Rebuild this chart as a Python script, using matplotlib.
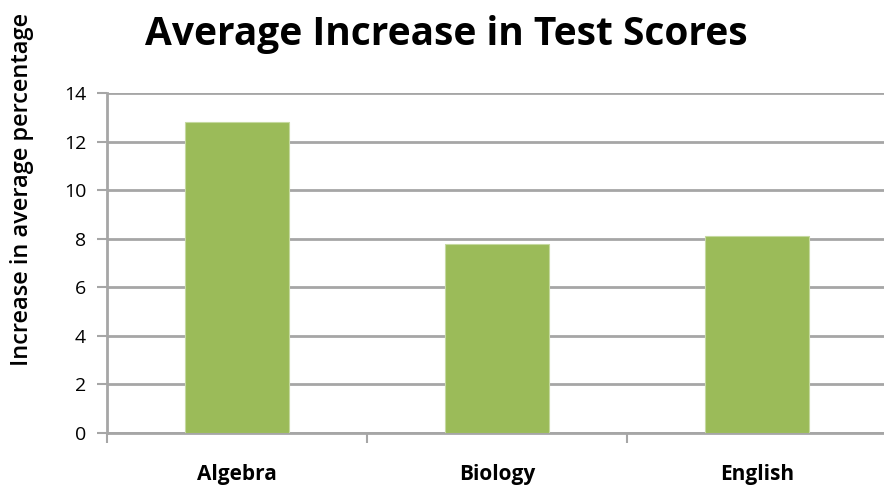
import matplotlib.pyplot as plt

plt.rcParams['font.family'] = ['Open Sans', 'DejaVu Sans']

subjects = ["Algebra", "Biology", "English"]
increase = [12.8, 7.8, 8.1]
yticks = [0, 2, 4, 6, 8, 10, 12, 14]

fig = plt.figure(figsize=(8.84, 4.9), dpi=100)
ax = fig.add_axes([107 / 884, 57 / 490, 780 / 884, 340 / 490])

grid_col = "#a6a6a6"
ax.bar(range(len(subjects)), increase, width=0.4, color="#9bbb59",
       edgecolor="#c5d9a0", linewidth=0.8, zorder=3)

ax.set_xlim(-0.5, 2.5)
ax.set_ylim(0, 14)
ax.set_yticks(yticks)
ax.set_yticklabels([str(t) for t in yticks], fontsize=14)
ax.yaxis.grid(True, color=grid_col, linewidth=2, zorder=0)

# category labels in the middle, tick marks on the boundaries
ax.set_xticks(range(len(subjects)))
ax.set_xticklabels(subjects, fontsize=15, fontweight="bold")
ax.tick_params(axis="x", length=0, pad=22)
ax.set_xticks([-0.5, 0.5, 1.5, 2.5], minor=True)
ax.tick_params(axis="x", which="minor", length=7, width=1.5, color=grid_col)
ax.tick_params(axis="y", length=7, width=1.5, color=grid_col, pad=8)

for side in ["top", "right"]:
    ax.spines[side].set_visible(False)
for side in ["left", "bottom"]:
    ax.spines[side].set_color(grid_col)
    ax.spines[side].set_linewidth(2)

ax.set_ylabel("Increase in average percentage", fontsize=17,
              fontweight="semibold")
ax.yaxis.set_label_coords(-0.094, 0.715)
fig.text(0.505, 0.93, "Average Increase in Test Scores", ha="center",
         va="center", fontsize=28, fontweight="bold")

fig.savefig("out.png", dpi=100)
